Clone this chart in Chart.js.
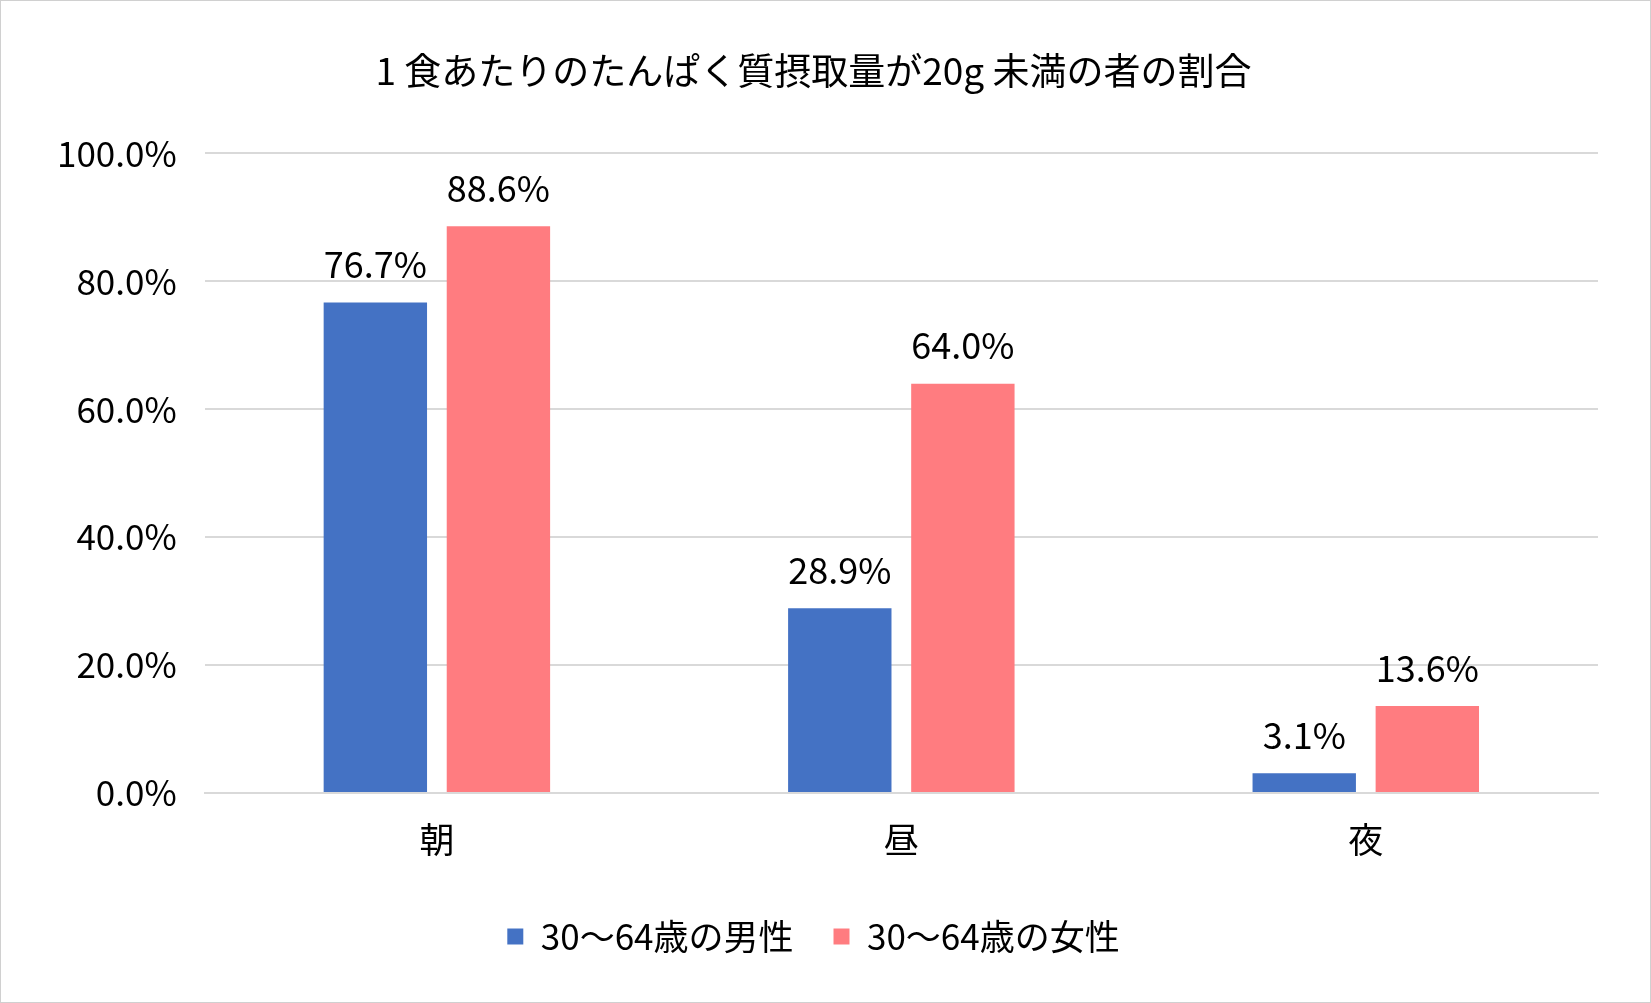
<!DOCTYPE html>
<html><head><meta charset="utf-8">
<script src="https://cdn.jsdelivr.net/npm/chart.js@4"></script>
<style>html,body{margin:0;padding:0;background:#fff}#w{width:1649px;height:1001px;border:1px solid #d0d0d0;position:relative}</style>
</head><body><div id="w"><canvas id="c"></canvas></div>
<script>
const categories=['朝','昼','夜'];
const maleValues=[76.7,28.9,3.1];
const femaleValues=[88.6,64.0,13.6];
const seriesNames=['30～64歳の男性','30～64歳の女性'];
const F='"Noto Sans CJK JP","Noto Sans",sans-serif';
const labelPlugin={id:'lbl',afterDatasetsDraw(ch){const x=ch.ctx;x.save();x.font='36px '+F;x.fillStyle='#000';x.textAlign='center';x.textBaseline='bottom';
ch.data.datasets.forEach((d,i)=>{ch.getDatasetMeta(i).data.forEach((b,j)=>{x.fillText(d.data[j].toFixed(1)+'%',b.x,b.y-20);});});x.restore();}};
new Chart(document.getElementById('c'),{type:'bar',
data:{labels:categories,datasets:[
{label:seriesNames[0],data:maleValues,backgroundColor:'#4472C4'},
{label:seriesNames[1],data:femaleValues,backgroundColor:'#FF7C80'}]},
options:{responsive:true,maintainAspectRatio:false,animation:false,
categoryPercentage:0.53,barPercentage:0.84,
layout:{padding:{left:28,right:52,top:28,bottom:38}},
plugins:{title:{display:true,text:'1 食あたりのたんぱく質摂取量が20g 未満の者の割合',font:{family:F,size:37,weight:'normal'},color:'#000',padding:{top:20,bottom:60}},
legend:{position:'bottom',labels:{font:{family:F,size:35},color:'#000',boxWidth:16,boxHeight:16,padding:40}},tooltip:{enabled:false}},
scales:{y:{min:0,max:100,ticks:{stepSize:20,callback:v=>v.toFixed(1)+'%',font:{family:F,size:35},color:'#000',padding:28},grid:{color:'#d9d9d9',lineWidth:2,drawTicks:false},border:{display:false}},
x:{ticks:{font:{family:F,size:35},color:'#000',padding:18},grid:{display:false},border:{color:'#d9d9d9',width:2}}}},
plugins:[labelPlugin]});
</script></body></html>
